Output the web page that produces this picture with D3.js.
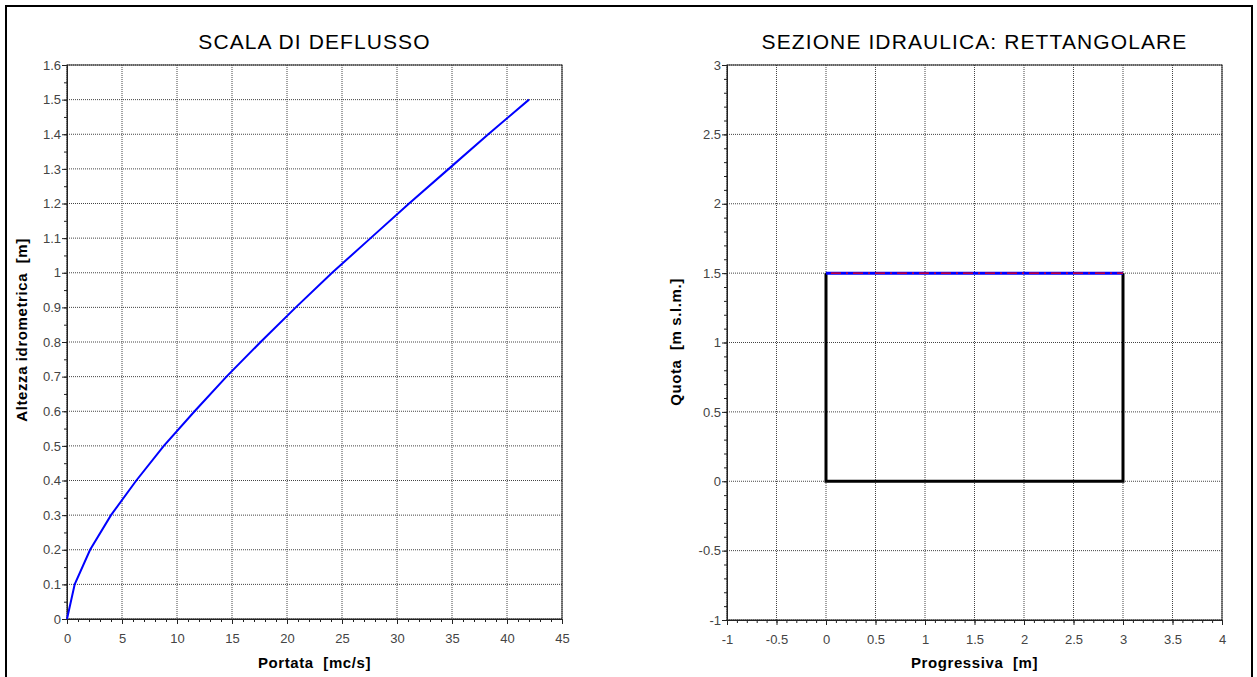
<!DOCTYPE html>
<html><head><meta charset="utf-8">
<script src="https://cdn.jsdelivr.net/npm/d3@7"></script>
<style>
body{margin:0;background:#fff;}
svg{display:block;font-family:"Liberation Sans",Arial,sans-serif;}
text{white-space:pre;}
</style></head>
<body><svg id="c" width="1257" height="677"></svg>
<script>
// ---- Data ----
const stageHeights = [0,0.1,0.2,0.3,0.4,0.5,0.6,0.7,0.8,0.9,1.0,1.1,1.2,1.3,1.4,1.5];
const discharges   = [0,0.7,2.1,4.0,6.3,8.8,11.6,14.5,17.6,20.8,24.1,27.6,31.1,34.7,38.3,42.0];
const sectionX = [0,0,3,3];
const sectionY = [1.5,0,0,1.5];
const waterX = [0,3];
const waterY = [1.5,1.5];
const leftXTicks = [0,5,10,15,20,25,30,35,40,45];
const leftYTicks = [0,0.1,0.2,0.3,0.4,0.5,0.6,0.7,0.8,0.9,1,1.1,1.2,1.3,1.4,1.5,1.6];
const rightXTicks = [-1,-0.5,0,0.5,1,1.5,2,2.5,3,3.5,4];
const rightYTicks = [-1,-0.5,0,0.5,1,1.5,2,2.5,3];
const titles = ["SCALA DI DEFLUSSO","SEZIONE IDRAULICA: RETTANGOLARE"];
const xLabels = ["Portata  [mc/s]","Progressiva  [m]"];
const yLabels = ["Altezza idrometrica  [m]","Quota  [m s.l.m.]"];

const svg = d3.select("#c");
svg.append("path").attr("d","M6,677 V6 H1252 V677").attr("fill","none").attr("stroke","#000").attr("stroke-width",2);

const fmt = d => String(+d.toFixed(2)).replace("\u2212","-");

function panel(o){
  const g = svg.append("g");
  const x = d3.scaleLinear().domain(o.xd).range([o.x0,o.x1]);
  const y = d3.scaleLinear().domain(o.yd).range([o.y1,o.y0]);
  o.xt.forEach(v=>{ g.append("line").attr("x1",x(v)).attr("x2",x(v)).attr("y1",o.y0).attr("y2",o.y1)
     .attr("stroke","#444").attr("stroke-width",1).attr("stroke-dasharray","1,1"); });
  o.yt.forEach(v=>{ g.append("line").attr("x1",o.x0).attr("x2",o.x1).attr("y1",y(v)).attr("y2",y(v))
     .attr("stroke","#444").attr("stroke-width",1).attr("stroke-dasharray","1,1"); });
  g.append("rect").attr("x",o.x0).attr("y",o.y0).attr("width",o.x1-o.x0).attr("height",o.y1-o.y0)
    .attr("fill","none").attr("stroke","#222").attr("stroke-width",1);
  const xm = d3.range(o.xd[0], o.xd[1]+1e-9, o.xminor);
  const ym = d3.range(o.yd[0], o.yd[1]+1e-9, o.yminor);
  const xAx = d3.axisBottom(x).tickValues(o.xt).tickSize(5).tickFormat(fmt);
  const yAx = d3.axisLeft(y).tickValues(o.yt).tickSize(5).tickFormat(fmt);
  const xAm = d3.axisBottom(x).tickValues(xm).tickSize(3).tickFormat("");
  const yAm = d3.axisLeft(y).tickValues(ym).tickSize(3).tickFormat("");
  [xAm,xAx].forEach(a=>{ const s=g.append("g").attr("transform",`translate(0,${o.y1})`).call(a);
    s.select(".domain").attr("stroke","#222"); s.selectAll(".tick line").attr("stroke","#222");
    s.selectAll("text").attr("font-size",13).attr("fill","#444").attr("dy","1.2em").attr("font-family","'Liberation Sans',Arial,sans-serif"); });
  [yAm,yAx].forEach(a=>{ const s=g.append("g").attr("transform",`translate(${o.x0},0)`).call(a);
    s.select(".domain").attr("stroke","#222"); s.selectAll(".tick line").attr("stroke","#222");
    s.selectAll("text").attr("font-size",13).attr("fill","#444").attr("x",-6).attr("font-family","'Liberation Sans',Arial,sans-serif"); });
  g.append("text").attr("x",(o.x0+o.x1)/2).attr("y",49).attr("text-anchor","middle")
    .attr("font-size",21).attr("letter-spacing",1.1).attr("fill","#000").text(o.title);
  g.append("text").attr("x",(o.x0+o.x1)/2).attr("y",668).attr("text-anchor","middle")
    .attr("font-size",15).attr("letter-spacing",0.6).attr("font-weight","bold").attr("fill","#000").text(o.xl);
  g.append("text").attr("transform",`translate(${o.ylx},${o.ylc}) rotate(-90)`).attr("text-anchor","middle")
    .attr("font-size",15).attr("letter-spacing",0.6).attr("font-weight","bold").attr("fill","#000").text(o.yl);
  return {g,x,y};
}

const L = panel({x0:67,x1:562,y0:65,y1:619,xd:[0,45],yd:[0,1.6],xt:leftXTicks,yt:leftYTicks,xminor:1,yminor:0.05,
  title:titles[0],xl:xLabels[0],yl:yLabels[0],ylx:27,ylc:330});
L.g.append("path").datum(d3.range(discharges.length))
  .attr("d",d3.line().x(i=>L.x(discharges[i])).y(i=>L.y(stageHeights[i])))
  .attr("fill","none").attr("stroke","#0000ff").attr("stroke-width",2);

const R = panel({x0:727,x1:1222,y0:65,y1:620,xd:[-1,4],yd:[-1,3],xt:rightXTicks,yt:rightYTicks,xminor:0.1,yminor:0.1,
  title:titles[1],xl:xLabels[1],yl:yLabels[1],ylx:681,ylc:342});
R.g.append("path").datum(d3.range(sectionX.length))
  .attr("d",d3.line().x(i=>R.x(sectionX[i])).y(i=>R.y(sectionY[i])))
  .attr("fill","none").attr("stroke","#000").attr("stroke-width",3);
const wl = d3.line().x(i=>R.x(waterX[i])).y(i=>R.y(waterY[i]));
R.g.append("path").datum([0,1]).attr("d",wl).attr("fill","none").attr("stroke","#0000ff").attr("stroke-width",3);
R.g.append("path").datum([0,1]).attr("d",wl).attr("fill","none").attr("stroke","#ff0000").attr("stroke-width",1.2)
  .attr("stroke-dasharray","10,5,2,5").attr("stroke-dashoffset",-5);
</script></body></html>
